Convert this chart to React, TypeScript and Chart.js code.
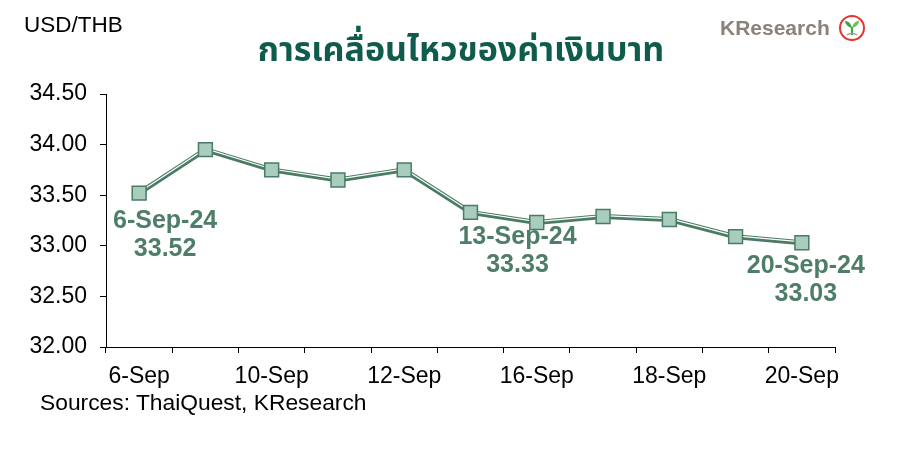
import React, { useEffect, useRef } from "react";
import { Chart, registerables } from "chart.js";

Chart.register(...registerables);

const categories = ["6-Sep", "9-Sep", "10-Sep", "11-Sep", "12-Sep", "13-Sep", "16-Sep", "17-Sep", "18-Sep", "19-Sep", "20-Sep"];
const usdThb = [33.52, 33.95, 33.75, 33.65, 33.75, 33.33, 33.23, 33.29, 33.26, 33.09, 33.03];
const yTicks = [32.0, 32.5, 33.0, 33.5, 34.0, 34.5];
const annotatedIndex = [0, 5, 10];
const annotatedDates = ["6-Sep-24", "13-Sep-24", "20-Sep-24"];

const LINE = "#4a7b64";
const FILL = "#a8cdbd";
const LABEL = "#4e7d68";
const ARIAL = "'Liberation Sans', Arial, sans-serif";

// pixel placement of the annotation labels relative to their points (style only)
const labelDx = [26, 47, 4];
const labelDy = [28, 25, 23];
const lineGap = 28;

const offsetLinePlugin = {
  id: "offsetLine",
  beforeDatasetDraw(chart: any, args: any) {
    if (args.index === 1) {
      chart.ctx.save();
      chart.ctx.translate(0, -0.9);
    }
  },
  afterDatasetDraw(chart: any, args: any) {
    if (args.index === 1) chart.ctx.restore();
  },
};

const labelPlugin = {
  id: "pointLabels",
  afterDatasetsDraw(chart: any) {
    const ctx = chart.ctx;
    const xs = chart.scales.x;
    const ys = chart.scales.y;
    ctx.save();
    ctx.fillStyle = LABEL;
    ctx.font = `bold 25px ${ARIAL}`;
    ctx.textAlign = "center";
    ctx.textBaseline = "middle";
    annotatedIndex.forEach((idx, k) => {
      const x = xs.getPixelForValue(idx) + labelDx[k];
      const y = ys.getPixelForValue(usdThb[idx]) + labelDy[k];
      ctx.fillText(annotatedDates[k], x, y);
      ctx.fillText(usdThb[idx].toFixed(2), x, y + lineGap);
    });
    ctx.restore();
  },
};

export default function App() {
  const ref = useRef<HTMLCanvasElement>(null);

  useEffect(() => {
    if (!ref.current) return;
    const chart = new Chart(ref.current, {
      type: "line",
      data: {
        labels: categories,
        datasets: [
          {
            data: usdThb,
            order: 3,
            borderColor: LINE,
            borderWidth: 5,
            pointRadius: 0,
            tension: 0,
          },
          {
            data: usdThb,
            order: 2,
            borderColor: "#ffffff",
            borderWidth: 1.2,
            pointRadius: 0,
            tension: 0,
          },
          {
            data: usdThb,
            order: 1,
            showLine: false,
            pointStyle: "rect",
            pointRadius: 9.8,
            pointBackgroundColor: FILL,
            pointBorderColor: LINE,
            pointBorderWidth: 1.5,
          },
        ],
      },
      options: {
        responsive: false,
        animation: false,
        events: [],
        layout: { padding: { top: 94, right: 85, left: 0, bottom: 0 } },
        plugins: { legend: { display: false }, tooltip: { enabled: false }, title: { display: false } },
        scales: {
          x: {
            type: "category",
            offset: true,
            afterFit: (s: any) => {
              s.height = 114;
            },
            grid: { offset: true, drawOnChartArea: false, tickLength: 6, color: "#000", lineWidth: 1 },
            border: { display: true, color: "#000", width: 1 },
            ticks: {
              autoSkip: false,
              maxRotation: 0,
              padding: 10,
              color: "#000",
              font: { family: ARIAL, size: 23 },
              callback: (_v: any, i: number) => (i % 2 === 0 ? categories[i] : ""),
            },
          },
          y: {
            min: yTicks[0],
            max: yTicks[yTicks.length - 1],
            afterFit: (s: any) => {
              s.width = 106;
            },
            afterBuildTicks: (s: any) => {
              s.ticks = yTicks.map((v) => ({ value: v }));
            },
            grid: { drawOnChartArea: false, tickLength: 6, color: "#000", lineWidth: 1 },
            border: { display: true, color: "#000", width: 1 },
            ticks: {
              padding: 13,
              color: "#000",
              font: { family: ARIAL, size: 23 },
              callback: (v: any) => Number(v).toFixed(2),
            },
          },
        },
      },
      plugins: [offsetLinePlugin, labelPlugin],
    });
    return () => chart.destroy();
  }, []);

  return (
    <div style={{ position: "absolute", left: 0, top: 0, width: 920, height: 461, background: "#fff", overflow: "hidden" }}>
      <canvas ref={ref} width={920} height={461} style={{ position: "absolute", left: 0, top: 0 }} />
      <div style={{ position: "absolute", left: 24, top: 12, font: `22.5px ${ARIAL}`, color: "#000", whiteSpace: "nowrap" }}>USD/THB</div>
      <div
        style={{
          position: "absolute",
          left: 0,
          width: 922,
          top: 25,
          textAlign: "center",
          fontFamily: "'Noto Sans Thai', 'Noto Sans', 'DejaVu Sans', sans-serif",
          fontWeight: "bold",
          fontSize: 34,
          color: "#0f5c4c",
          whiteSpace: "nowrap",
        }}
      >
        การเคลื่อนไหวของค่าเงินบาท
      </div>
      <div style={{ position: "absolute", left: 720, top: 16, font: `bold 21px ${ARIAL}`, color: "#8b8279", whiteSpace: "nowrap" }}>KResearch</div>
      <svg style={{ position: "absolute", left: 838, top: 14 }} width={28} height={28} viewBox="0 0 28 28">
        <circle cx={14} cy={14} r={12} fill="#fff" stroke="#e2382c" strokeWidth={2} />
        <path d="M14 21 L14 13" stroke="#3aa24a" strokeWidth={2.2} />
        <path d="M14 14 C10 13 7 10 7 7 C11 7 13 10 14 14 Z" fill="#3aa24a" />
        <path d="M14 14 C18 13 21 10 21 7 C17 7 15 10 14 14 Z" fill="#6cc04a" />
        <path d="M9 21 C11 19 17 19 19 21" stroke="#a89c8e" strokeWidth={1.5} fill="none" />
      </svg>
      <div style={{ position: "absolute", left: 40, top: 389, font: `22.8px ${ARIAL}`, color: "#000", whiteSpace: "nowrap" }}>
        Sources: ThaiQuest, KResearch
      </div>
    </div>
  );
}
